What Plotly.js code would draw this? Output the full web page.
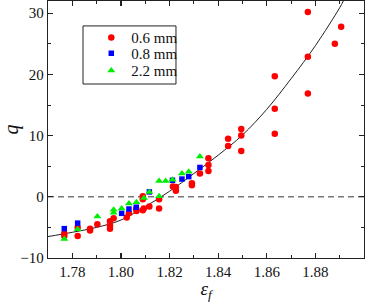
<!DOCTYPE html>
<html>
<head>
<meta charset="utf-8">
<script src="https://cdn.plot.ly/plotly-3.0.1.min.js"></script>
<style>html,body{margin:0;padding:0;background:#fff;}#chart{width:373px;height:302px;}</style>
</head>
<body>
<div id="chart"></div>
<script>
// 0.6 mm series
const redX = [1.7767,1.7767,1.7822,1.7822,1.7873,1.7873,1.7903,1.7955,1.7955,1.7955,1.7970,
  1.8024,1.8033,1.8063,1.8064,1.8090,1.8090,1.8090,1.8094,1.8117,1.8157,1.8157,
  1.8214,1.8226,1.8226,1.8292,1.8292,1.8325,1.8360,1.8360,1.8360,
  1.8441,1.8441,1.8495,1.8495,1.8495,1.8633,1.8633,1.8633,1.8769,1.8769,1.8769,1.8880,1.8906];
const redY = [-6.0,-6.4,-5.0,-6.4,-5.2,-5.5,-4.5,-4.0,-4.7,-5.2,-3.5,
  -3.4,-2.7,-2.0,-2.3,0.1,-0.4,-2.2,-1.9,-1.6,-0.4,-1.9,
  1.7,1.6,1.0,2.2,1.9,3.8,6.3,5.2,4.2,
  9.5,8.3,11.1,10.0,7.5,19.7,14.4,10.3,30.2,22.9,16.9,25.0,27.8];
// 0.8 mm series
const blueX = [1.7767,1.7822,1.8003,1.8033,1.8063,1.8117,1.8212,1.8251,1.8279,1.8325];
const blueY = [-5.2,-4.3,-2.7,-2.0,-1.7,0.8,2.7,2.9,3.3,4.8];
// 2.2 mm series
const greenX = [1.7767,1.7822,1.7903,1.7970,1.7970,1.8003,1.8033,1.8064,1.8095,1.8117,1.8157,1.8157,1.8184,1.8212,1.8251,1.8279,1.8325];
const greenY = [-6.9,-5.3,-3.2,-2.1,-2.6,-1.9,-1.1,-0.9,-0.2,0.8,0.1,2.6,2.6,2.8,3.8,4.1,6.6];
// fitted curve
const fitX = [1.77,1.78,1.79,1.80,1.81,1.82,1.83,1.84,1.85,1.86,1.87,1.88,1.89,1.8915];
const fitY = [-6.5,-5.8,-5.0,-3.8,-1.6,0.9,3.8,6.8,10.1,14.3,19.3,24.7,30.9,32.0];
const seriesNames = ['0.6 mm','0.8 mm','2.2 mm'];
const xTitle = '<i>ε<sub>f</sub></i>';
const yTitle = '<i>q</i>';

const font = 'Liberation Serif';
const traces = [
  {x: fitX, y: fitY, mode: 'lines', line: {color: '#222', width: 1, shape: 'spline'}, showlegend: false, hoverinfo: 'skip'},
  {x: redX, y: redY, mode: 'markers', name: seriesNames[0], legend: 'legend',
   marker: {symbol: 'circle', size: 6.5, color: '#ff0000'}},
  {x: blueX, y: blueY, mode: 'markers', name: seriesNames[1], legend: 'legend2',
   marker: {symbol: 'square', size: 5.5, color: '#0000ff'}},
  {x: greenX, y: greenY, mode: 'markers', name: seriesNames[2], legend: 'legend3',
   marker: {symbol: 'triangle-up', size: 7, color: '#00ee00'}}
];
function legend(y) {
  return {bgcolor: 'rgba(0,0,0,0)', borderwidth: 0, font: {family: font, size: 15, color: '#111'},
    xref: 'paper', xanchor: 'left', yanchor: 'middle', x: 0.137, y: y};
}
function axis(extra) {
  return Object.assign({
    showgrid: false, zeroline: false, showline: true, linecolor: '#222', linewidth: 1.2,
    mirror: 'allticks', ticks: 'inside', ticklen: 5, tickwidth: 1.2, tickcolor: '#222',
    tickfont: {family: font, size: 15, color: '#111'}
  }, extra);
}
const layout = {
  width: 373, height: 302,
  font: {family: font, size: 15, color: '#111'},
  margin: {l: 48, r: 9, t: 1, b: 44},
  paper_bgcolor: '#fff', plot_bgcolor: '#fff',
  xaxis: axis({
    range: [1.77, 1.90], dtick: 0.02, tick0: 1.78, tickformat: '.2f',
    minor: {ticks: 'inside', ticklen: 3, dtick: 0.01, tick0: 1.77, tickcolor: '#222', tickwidth: 1},
    title: {text: xTitle, font: {family: font, size: 19, color: '#111'}, standoff: 0}
  }),
  yaxis: axis({
    range: [-10, 32], dtick: 10, tick0: 0,
    minor: {ticks: 'inside', ticklen: 3, dtick: 5, tick0: 0, tickcolor: '#222', tickwidth: 1},
    title: {text: yTitle, font: {family: font, size: 20, color: '#111'}, standoff: 12}
  }),
  legend: legend(0.857),
  legend2: legend(0.796),
  legend3: legend(0.729),
  shapes: [
    {type: 'line', xref: 'paper', x0: 0, x1: 1, yref: 'y', y0: 0, y1: 0,
     line: {color: '#777', width: 1.5, dash: '6px,4px'}, layer: 'below'},
    {type: 'rect', xref: 'paper', yref: 'paper', x0: 0.1108, x1: 0.405, y0: 0.677, y1: 0.903,
     line: {color: '#222', width: 1}, fillcolor: 'rgba(0,0,0,0)'}
  ],
  showlegend: true
};
Plotly.newPlot('chart', traces, layout, {displayModeBar: false, staticPlot: true});
</script>
</body>
</html>
